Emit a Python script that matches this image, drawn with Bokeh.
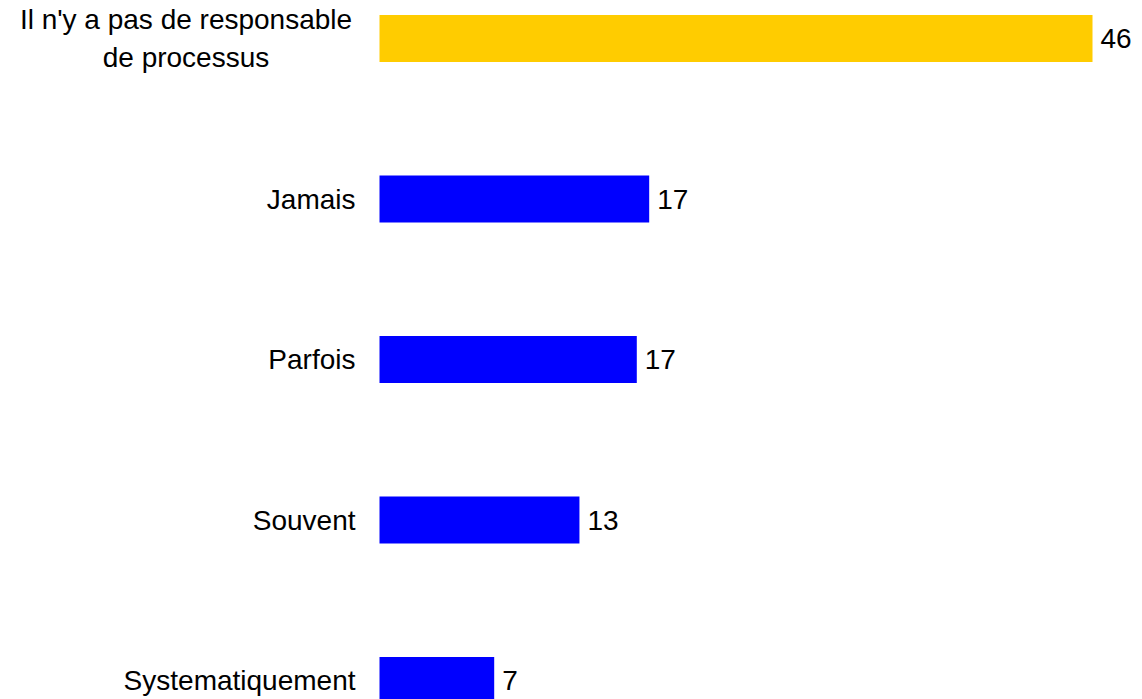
from bokeh.plotting import figure
from bokeh.models import ColumnDataSource, Range1d
from bokeh.core.properties import value
from bokeh.embed import file_html
from bokeh.resources import INLINE

# Data (top to bottom)
categories = ["Il n'y a pas de responsable\nde processus", "Jamais", "Parfois", "Souvent", "Systematiquement"]
values = [46.0, 17.4, 16.6, 12.9, 7.4]
value_labels = ["46", "17", "17", "13", "7"]

# Styles
colors = ["#FFCC00", "#0000FF", "#0000FF", "#0000FF", "#0000FF"]
cat_align = ["center", "right", "right", "right", "right"]
cat_offset = [-193.5, -24, -24, -24, -24]

ypos = list(range(len(categories)))

src = ColumnDataSource(dict(
    y=ypos, v=values, lab=value_labels, cat=categories,
    color=colors, align=cat_align, off=cat_offset, zero=[0] * len(values),
))

W, H = 1142, 699
px_per_unit = 15.5
x0_px = 379
p = figure(width=W, height=H, output_backend="svg", toolbar_location=None,
           x_range=Range1d(-x0_px / px_per_unit, (W - x0_px) / px_per_unit),
           y_range=Range1d(4.118, -0.237),
           min_border=0, min_border_left=0, min_border_right=0,
           min_border_top=0, min_border_bottom=0)
p.axis.visible = False
p.grid.visible = False
p.outline_line_color = None
p.background_fill_color = "white"
p.border_fill_color = "white"

p.hbar(y="y", left=0, right="v", height=0.293, source=src,
       fill_color="color", line_color=None)

p.text(x="v", y="y", text="lab", source=src, x_offset=8,
       text_align="left", text_baseline="middle",
       text_font=value("Liberation Sans"), text_font_size="28px", text_color="#000000")

p.text(x="zero", y="y", text="cat", source=src, x_offset="off",
       text_align="align", text_baseline="middle", text_line_height=1.2,
       text_font=value("Liberation Sans"), text_font_size="28px", text_color="#000000")

open("out.html", "w").write(file_html(p, INLINE))
